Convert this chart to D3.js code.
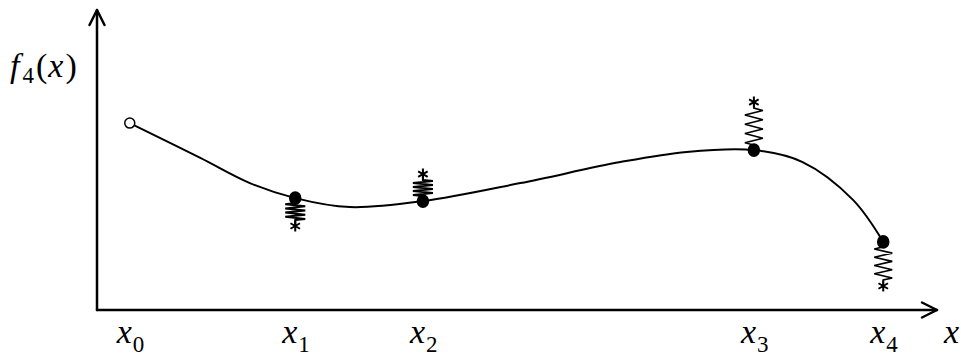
<!DOCTYPE html>
<html>
<head>
<meta charset="utf-8">
<script src="https://cdn.jsdelivr.net/npm/d3@7"></script>
<style>
  body { margin: 0; background: #fff; }
  svg { display: block; }
  text { font-family: "Liberation Serif", "DejaVu Serif", serif; fill: #000; }
</style>
</head>
<body>
<div id="chart"></div>
<script>
// smooth curve f4(x)
var curveX = [3.9, 12.3, 18.2, 23.6, 30.1, 38.8, 50.4, 62.3, 70.2, 78.2, 84.0, 90.0, 93.6];
var curveY = [62.3, 50.7, 42.3, 37.3, 34.3, 36.3, 42.3, 49.3, 52.7, 53.3, 49.3, 36.7, 22.7];

// knots x0..x4 on the curve
var knotLabels = ["0", "1", "2", "3", "4"];
var knotX = [3.9, 23.6, 38.8, 78.2, 93.6];
var knotY = [62.3, 37.3, 36.3, 53.3, 22.7];

// observed values (asterisks) tied to knots by springs, none for x0
var obsY = [null, 28.0, 45.3, 69.3, 8.0];

var width = 961, height = 356;

var svg = d3.select("#chart").append("svg")
    .attr("width", width)
    .attr("height", height);

var x = d3.scaleLinear().domain([0, 100]).range([97, 937]);
var y = d3.scaleLinear().domain([0, 100]).range([310, 10]);

// axes with open arrow heads
var axis = svg.append("g")
    .attr("fill", "none")
    .attr("stroke", "#000")
    .attr("stroke-width", 2.5)
    .attr("stroke-linecap", "round")
    .attr("stroke-linejoin", "round");

axis.append("path")
    .attr("d", "M" + x(0) + "," + y(0) + "H" + x(100));
axis.append("path")
    .attr("d", "M" + x(0) + "," + y(0) + "V" + y(100));
axis.append("path")
    .attr("d", "M" + (x(100) - 15) + "," + (y(0) - 7.5) + "L" + x(100) + "," + y(0) + "L" + (x(100) - 15) + "," + (y(0) + 7.5));
axis.append("path")
    .attr("d", "M" + (x(0) - 7.5) + "," + (y(100) + 15) + "L" + x(0) + "," + y(100) + "L" + (x(0) + 7.5) + "," + (y(100) + 15));

// the curve
var line = d3.line()
    .x(function (d) { return x(d[0]); })
    .y(function (d) { return y(d[1]); })
    .curve(d3.curveCatmullRom.alpha(0.5));

svg.append("path")
    .datum(d3.zip(curveX, curveY))
    .attr("d", line)
    .attr("fill", "none")
    .attr("stroke", "#000")
    .attr("stroke-width", 2);

// springs and asterisks
var knots = knotX.map(function (v, i) {
    return { i: i, x: v, y: knotY[i], obs: obsY[i] };
});

function springPath(cx, y0, y1) {
    var dir = y1 > y0 ? 1 : -1;
    var a = y0 + dir * 5, b = y1 - dir * 6;
    var len = Math.abs(b - a);
    var n = 8, w = len < 22 ? 10 : 9;
    var pts = [[cx, y0], [cx, a]];
    for (var k = 0; k < n; k++) {
        var t = (k + 0.5) / n;
        pts.push([cx + (k % 2 ? w : -w), a + (b - a) * t]);
    }
    pts.push([cx, b], [cx, y1]);
    return d3.line()(pts);
}

var springs = knots.filter(function (d) { return d.obs !== null; });

svg.selectAll(".spring")
    .data(springs)
    .enter()
    .append("path")
    .attr("class", "spring")
    .attr("d", function (d) { return springPath(x(d.x), y(d.y), y(d.obs)); })
    .attr("fill", "none")
    .attr("stroke", "#000")
    .attr("stroke-width", function (d) { return Math.abs(y(d.obs) - y(d.y)) < 32 ? 2 : 1.6; })
    .attr("stroke-linejoin", "miter");

svg.selectAll(".star")
    .data(springs)
    .enter()
    .append("path")
    .attr("class", "star")
    .attr("d", function (d) {
        var cx = x(d.x), cy = y(d.obs), r = 5.5, s = "";
        [90, 30, 150].forEach(function (deg) {
            var a = deg * Math.PI / 180;
            s += "M" + (cx - r * Math.cos(a)) + "," + (cy - r * Math.sin(a)) +
                 "L" + (cx + r * Math.cos(a)) + "," + (cy + r * Math.sin(a));
        });
        return s;
    })
    .attr("stroke", "#000")
    .attr("stroke-width", 2);

// knot markers
svg.selectAll(".knot")
    .data(knots)
    .enter()
    .append("ellipse")
    .attr("class", "knot")
    .attr("cx", function (d) { return x(d.x); })
    .attr("cy", function (d) { return y(d.y); })
    .attr("rx", function (d) { return d.i === 0 ? 5 : 5.5; })
    .attr("ry", function (d) { return d.i === 0 ? 5 : 6.2; })
    .attr("fill", function (d) { return d.i === 0 ? "#fff" : "#000"; })
    .attr("stroke", "#000")
    .attr("stroke-width", 1.5);

// knot labels x_0 .. x_4
var labels = svg.selectAll(".xlabel")
    .data(knots)
    .enter()
    .append("text")
    .attr("class", "xlabel")
    .attr("x", function (d) { return x(d.x) - 13; })
    .attr("y", 343)
    .style("font-size", "34px");

labels.append("tspan")
    .style("font-style", "italic")
    .text("x");
labels.append("tspan")
    .attr("dx", 1)
    .attr("dy", 9)
    .style("font-size", "23px")
    .text(function (d) { return knotLabels[d.i]; });

// axis titles
svg.append("text")
    .attr("x", 944)
    .attr("y", 343)
    .style("font-size", "34px")
    .style("font-style", "italic")
    .text("x");

var ft = svg.append("text")
    .attr("x", 10)
    .attr("y", 77)
    .style("font-size", "34px")
    .style("letter-spacing", "1px");
ft.append("tspan").style("font-style", "italic").text("f");
ft.append("tspan").attr("dx", 2).attr("dy", 6).style("font-size", "23px").text("4");
ft.append("tspan").attr("dx", 1).attr("dy", -6).text("(");
ft.append("tspan").style("font-style", "italic").text("x");
ft.append("tspan").attr("dx", 1).text(")");
</script>
</body>
</html>
